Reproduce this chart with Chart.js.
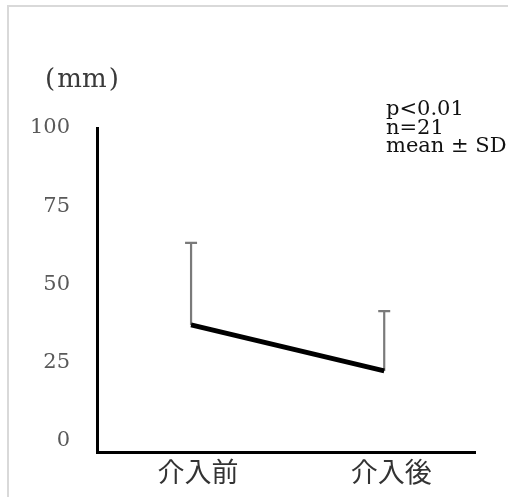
<!DOCTYPE html>
<html>
<head>
<meta charset="utf-8">
<script src="https://cdn.jsdelivr.net/npm/chart.js@4/dist/chart.umd.min.js"></script>
<style>
  html, body { margin: 0; padding: 0; background: #ffffff; }
  #wrap { position: relative; width: 508px; height: 497px; }
</style>
</head>
<body>
<div id="wrap"><canvas id="c" width="508" height="497"></canvas></div>
<script>
// Intervention before / after (mean with upper SD bar)
const categories = ['介入前', '介入後'];
const means = [37.1, 22.4];
const sds = [26.2, 19.1];
const yTicks = [0, 25, 50, 75, 100];
const unitLabel = '(mm)';
const notes = ['p<0.01', 'n=21', 'mean \u00b1 SD'];

const points = means.map((m, i) => ({ x: i, y: m }));

// Gray frame on the top and left edge of the figure
const framePlugin = {
  id: 'frame',
  beforeDraw(chart) {
    const ctx = chart.ctx;
    ctx.save();
    ctx.strokeStyle = '#d9d9d9';
    ctx.lineWidth = 2;
    ctx.beginPath();
    ctx.moveTo(8, 497);
    ctx.lineTo(8, 6);
    ctx.lineTo(508, 6);
    ctx.stroke();
    ctx.restore();
  }
};

// Upper standard-deviation whiskers, drawn under the mean line
const sdPlugin = {
  id: 'sdBars',
  beforeDatasetsDraw(chart) {
    const ctx = chart.ctx;
    const xs = chart.scales.x, ys = chart.scales.y;
    ctx.save();
    ctx.strokeStyle = '#7a7a7a';
    ctx.lineWidth = 2.2;
    means.forEach((m, i) => {
      const x = xs.getPixelForValue(i);
      const y0 = ys.getPixelForValue(m);
      const y1 = ys.getPixelForValue(m + sds[i]);
      ctx.beginPath();
      ctx.moveTo(x, y0);
      ctx.lineTo(x, y1);
      ctx.moveTo(x - 6, y1);
      ctx.lineTo(x + 6, y1);
      ctx.stroke();
    });
    ctx.restore();
  }
};

// Unit label and statistics note
const textPlugin = {
  id: 'texts',
  afterDraw(chart) {
    const ctx = chart.ctx;
    ctx.save();
    ctx.fillStyle = '#3a3a3a';
    ctx.font = '26px "DejaVu Serif"';
    ctx.textBaseline = 'middle';
    ctx.textAlign = 'left';
    ctx.fillText(unitLabel.charAt(0), 45, 80);
    ctx.textAlign = 'center';
    ctx.fillText(unitLabel.slice(1, -1), 82, 80);
    ctx.textAlign = 'right';
    ctx.fillText(unitLabel.slice(-1), 119, 80);

    ctx.fillStyle = '#111111';
    ctx.font = '21px "DejaVu Serif"';
    ctx.textBaseline = 'alphabetic';
    ctx.textAlign = 'left';
    const baselines = [115, 134, 152];
    notes.forEach((t, i) => ctx.fillText(t, 386, baselines[i]));
    ctx.restore();
  }
};

new Chart(document.getElementById('c'), {
  type: 'line',
  data: {
    datasets: [{
      data: points,
      borderColor: '#000000',
      borderWidth: 5,
      pointRadius: 0,
      tension: 0,
      fill: false
    }]
  },
  options: {
    responsive: false,
    animation: false,
    devicePixelRatio: 1,
    layout: { padding: { top: 128, right: 33, left: 0, bottom: 0 } },
    plugins: { legend: { display: false }, tooltip: { enabled: false } },
    scales: {
      x: {
        type: 'linear',
        min: -0.487,
        max: 1.47,
        afterBuildTicks(scale) { scale.ticks = categories.map((_, i) => ({ value: i })); },
        afterFit(scale) { scale.height = 45; },
        grid: { display: false, drawTicks: false },
        border: { display: true, color: '#000000', width: 3 },
        ticks: {
          padding: 4,
          labelOffset: 7,
          maxRotation: 0,
          color: '#333333',
          font: { family: '"Noto Sans CJK JP"', size: 27 },
          callback: (v) => categories[v]
        }
      },
      y: {
        min: -3.5,
        max: 100,
        afterBuildTicks(scale) { scale.ticks = yTicks.map(v => ({ value: v })); },
        afterFit(scale) { scale.width = 97; },
        grid: { display: false, drawTicks: false },
        border: { display: true, color: '#000000', width: 3 },
        ticks: {
          padding: 27,
          color: '#595959',
          font: { family: '"DejaVu Serif"', size: 21 }
        }
      }
    }
  },
  plugins: [framePlugin, sdPlugin, textPlugin]
});
</script>
</body>
</html>
